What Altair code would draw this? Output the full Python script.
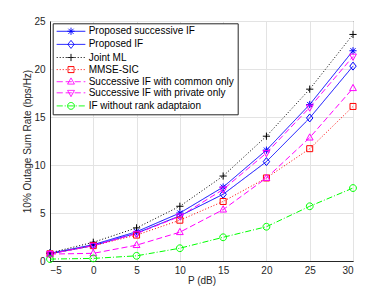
import altair as alt
import pandas as pd

# ---------------- data ----------------
P_DB = [-5, 0, 5, 10, 15, 20, 25, 30]
SERIES = [
    "Proposed successive IF",
    "Proposed IF",
    "Joint ML",
    "MMSE-SIC",
    "Successive IF with common only",
    "Successive IF with private only",
    "IF without rank adaptaion",
]
prop_succ_if = [0.8, 1.7, 3.05, 5.0, 7.7, 11.55, 16.3, 21.9]
prop_if = [0.75, 1.6, 2.9, 4.7, 6.95, 10.35, 14.9, 20.3]
joint_ml = [0.85, 1.95, 3.45, 5.7, 8.85, 13.0, 17.9, 23.6]
mmse_sic = [0.75, 1.6, 2.7, 4.25, 6.2, 8.65, 11.7, 16.1]
common_only = [0.72, 0.8, 1.65, 3.0, 5.35, 8.65, 12.85, 18.0]
private_only = [0.75, 1.6, 2.85, 4.65, 7.45, 11.25, 16.0, 21.3]
if_no_rank = [0.2, 0.27, 0.54, 1.33, 2.47, 3.57, 5.7, 7.6]
VALUES = [prop_succ_if, prop_if, joint_ml, mmse_sic, common_only, private_only, if_no_rank]

X_TICKS = [-5, 0, 5, 10, 15, 20, 25, 30]
Y_TICKS = [0, 5, 10, 15, 20, 25]

# ---------------- styles ----------------
COLORS = ["#0000ff", "#0000ff", "#000000", "#ff0000", "#ff00ff", "#ff00ff", "#00ff00"]
DASHES = [[1, 0], [1, 0], [1, 2], [1, 2], [6, 3], [6, 3], [6, 2, 1, 2]]
MARKERS = [
    "M-0.9,0L0.9,0M0,-0.9L0,0.9M-0.64,-0.64L0.64,0.64M-0.64,0.64L0.64,-0.64",
    "M0,-1L0.8,0L0,1L-0.8,0Z",
    "M-0.9,0L0.9,0M0,-0.9L0,0.9",
    "M-0.75,-0.75L0.75,-0.75L0.75,0.75L-0.75,0.75Z",
    "M0,-0.95L0.85,0.6L-0.85,0.6Z",
    "M0,0.95L0.85,-0.6L-0.85,-0.6Z",
    "M0.85,0A0.85,0.85 0 1,1 -0.85,0A0.85,0.85 0 1,1 0.85,0Z",
]
UNIT = 4.0  # px per path unit for size 64
HALF = 3.575  # legend line half length in units


def line_path(dash):
    """Horizontal legend line from -HALF to HALF with the dash pattern (px)."""
    pat = [d / UNIT for d in dash]
    if dash[1] == 0:
        return f"M{-HALF:.3f},0L{HALF:.3f},0"
    parts = []
    x = -HALF
    i = 0
    while x < HALF:
        seg = pat[i % len(pat)]
        if i % 2 == 0:
            x2 = min(x + seg, HALF)
            parts.append(f"M{x:.3f},0L{x2:.3f},0")
        x += seg
        i += 1
    return "".join(parts)


legend_paths = [line_path(d) + m for d, m in zip(DASHES, MARKERS)]
expr = "'" + legend_paths[-1] + "'"
for name, p in reversed(list(zip(SERIES[:-1], legend_paths[:-1]))):
    expr = f"datum.value === '{name}' ? '{p}' : " + expr

KEYS = [f"k{i}" for i in range(len(SERIES))]
rows = []
for name, key, vals in zip(SERIES, KEYS, VALUES):
    for x, v in zip(P_DB, vals):
        rows.append({"P": x, "rate": v, "series": name, "key": key})
df = pd.DataFrame(rows)

FONT = "Liberation Sans"
TXT = "#262626"

x_enc = alt.X(
    "P:Q",
    scale=alt.Scale(domain=[-5, 30], nice=False, zero=False),
    axis=alt.Axis(values=X_TICKS, title="P (dB)", titleY=19.5, titleBaseline="middle", labelPadding=4),
)
y_enc = alt.Y(
    "rate:Q",
    scale=alt.Scale(domain=[0, 25], nice=False),
    axis=alt.Axis(values=Y_TICKS, title="10% Outage Sum Rate (bps/Hz)", titleX=-23,
                  titleBaseline="middle", labelPadding=5),
)
color_enc = alt.Color(
    "series:N",
    sort=SERIES,
    scale=alt.Scale(domain=SERIES, range=COLORS),
    legend=alt.Legend(
        title=None,
        orient="none",
        legendX=2.7,
        legendY=2.3,
        fillColor="white",
        strokeColor=TXT,
        padding=3,
        cornerRadius=0,
        labelFont=FONT,
        labelFontSize=10,
        labelColor="black",
        labelOffset=12.7,
        labelLimit=400,
        symbolOffset=10.3,
        symbolSize=64,
        symbolType={"expr": expr},
        symbolFillColor="transparent",
        symbolStrokeWidth=1,
        symbolDash=[1, 0],
        symbolOpacity=1,
        rowPadding=1.1,
    ),
)

lines = alt.Chart(df).mark_line(strokeWidth=1).encode(
    x=x_enc,
    y=y_enc,
    color=color_enc,
    strokeDash=alt.StrokeDash(
        "key:N", scale=alt.Scale(domain=KEYS, range=DASHES), legend=None
    ),
    detail="series:N",
)

points = alt.Chart(df).mark_point(filled=False, size=64, strokeWidth=1, opacity=1).encode(
    x=x_enc,
    y=y_enc,
    color=color_enc,
    shape=alt.Shape("key:N", scale=alt.Scale(domain=KEYS, range=MARKERS), legend=None),
)

chart = (
    alt.layer(lines, points)
    .properties(
        width=303,
        height=240,
        autosize=alt.AutoSizeParams(type="none"),
        padding={"left": 42, "top": 13, "right": 29, "bottom": 25},
    )
    .configure_view(stroke=TXT, strokeWidth=1)
    .configure_axis(
        labelFont=FONT,
        labelFontSize=10,
        labelColor=TXT,
        titleFont=FONT,
        titleFontSize=10,
        titleFontWeight="normal",
        titleColor=TXT,
        domainColor=TXT,
        gridColor="#e3e3e3",
        grid=True,
        ticks=False,
    )
)

chart.save("out.html", embed_options={"renderer": "svg", "actions": False})
